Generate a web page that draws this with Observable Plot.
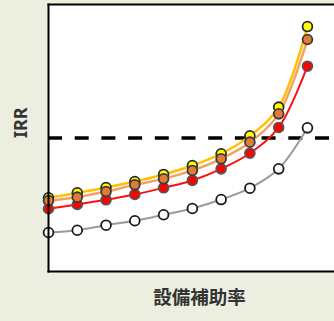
<!DOCTYPE html>
<html>
<head>
<meta charset="utf-8">
<script src="https://cdn.jsdelivr.net/npm/d3@7"></script>
<script src="https://cdn.jsdelivr.net/npm/@observablehq/plot@0.6"></script>
<style>
  html, body { margin: 0; padding: 0; background: #eceee0; }
  #chart svg { display: block; }
</style>
</head>
<body>
<div id="chart"></div>
<script>
// Subsidy steps along the x axis (no tick labels are drawn)
const steps = [0, 1, 2, 3, 4, 5, 6, 7, 8, 9];

// IRR (%) for each scenario
const irrGray   = [2.92, 3.09, 3.47, 3.80, 4.25, 4.72, 5.39, 6.24, 7.69, 10.76];
const irrRed    = [4.70, 5.02, 5.37, 5.77, 6.27, 6.82, 7.69, 8.86, 10.79, 15.38];
const irrYellow = [5.52, 5.89, 6.29, 6.74, 7.27, 7.94, 8.82, 10.16, 12.31, 18.35];
const irrOrange = [5.32, 5.57, 5.99, 6.49, 6.94, 7.57, 8.44, 9.69, 11.81, 17.38];

// Hurdle rate shown as the dashed reference line
const hurdle = 10;

const series = [
  {values: irrGray,   line: "#9a9a9a", fill: "#ffffff", stroke: "#1a1a1a", lw: 2},
  {values: irrRed,    line: "#ff1010", fill: "#ff0000", stroke: "#555555", lw: 2},
  {values: irrYellow, line: "#ffc000", fill: "#ffff00", stroke: "#2a2a2a", lw: 2.5},
  {values: irrOrange, line: "#f2a264", fill: "#e07b39", stroke: "#3a3a3a", lw: 2.5}
].map(s => ({...s, data: steps.map((x, i) => ({x, y: s.values[i]}))}));

const marks = [
  Plot.frame({fill: "white", stroke: "none"}),
  Plot.ruleY([hurdle], {stroke: "black", strokeWidth: 3.5, strokeDasharray: "14,12.7"}),
  ...series.map(s => Plot.line(s.data, {x: "x", y: "y", stroke: s.line, strokeWidth: s.lw, curve: "catmull-rom"})),
  ...series.map(s => Plot.dot(s.data, {x: "x", y: "y", r: 4.9, fill: s.fill, stroke: s.stroke, strokeWidth: 1.8})),
  // plot border: left, top, bottom
  Plot.frame({anchor: "left", stroke: "black", strokeWidth: 2}),
  Plot.frame({anchor: "top", stroke: "black", strokeWidth: 2}),
  Plot.frame({anchor: "bottom", stroke: "black", strokeWidth: 2}),
  Plot.text(["IRR"], {frameAnchor: "left", dx: -27, rotate: -90, fontSize: 18, fontWeight: "bold", fill: "#333"}),
  Plot.text(["設備補助率"], {frameAnchor: "bottom", dx: 8, dy: 32, fontSize: 18.5, fontWeight: "bold", fill: "#333",
    fontFamily: "Noto Sans CJK JP"})
];

const chart = Plot.plot({
  width: 334,
  height: 321,
  marginLeft: 48,
  marginRight: 0,
  marginTop: 4,
  marginBottom: 50,
  style: {background: "#eceee0", fontFamily: "Noto Sans, sans-serif"},
  x: {domain: [0, 9.94], axis: null},
  y: {domain: [0, 20], axis: null},
  marks
});
document.getElementById("chart").appendChild(chart);
</script>
</body>
</html>
